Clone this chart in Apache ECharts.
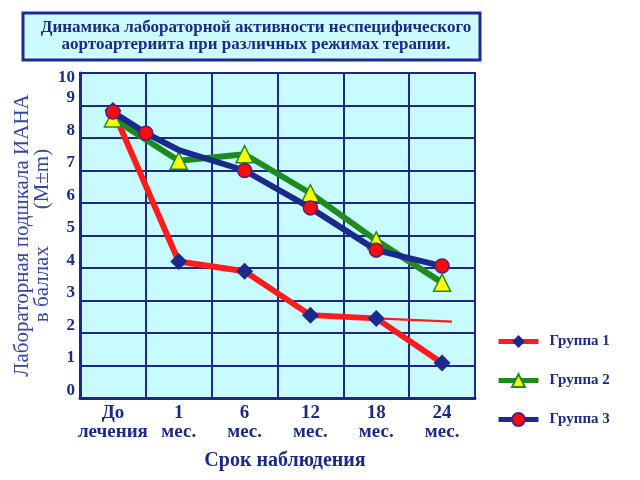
<!DOCTYPE html>
<html>
<head>
<meta charset="utf-8">
<script src="https://cdn.jsdelivr.net/npm/echarts@6/dist/echarts.min.js"></script>
<style>html,body{margin:0;padding:0;background:#fff}#c{width:640px;height:480px}</style>
</head>
<body>
<div id="c"></div>
<script>
// ---- data ----
var categories = ['До\nлечения', '1\nмес.', '6\nмес.', '12\nмес.', '18\nмес.', '24\nмес.'];
var yTicks = [0, 10];
var group1 = [8.85, 4.2, 3.9, 2.55, 2.45, 1.08];
var group1TailX = [4, 5.15];
var group1Tail = [2.45, 2.35];
var group2 = [8.6, 7.3, 7.5, 6.3, 4.85, 3.55];
var group3X = [0, 0.5, 1, 2, 3, 4, 5];
var group3 = [8.8, 8.15, 7.63, 7.0, 5.85, 4.55, 4.06];
var group3Marked = [true, true, false, true, true, true, true];
var seriesNames = ['Группа 1', 'Группа 2', 'Группа 3'];
var titleText = 'Динамика лабораторной активности неспецифического\nаортоартериита при различных режимах терапии.';
var yName = 'Лабораторная подшкала ИАНА\nв баллах       (M±m)';
var xName = 'Срок наблюдения';

var NAVY = '#1b2a84';
var FONT = '"Liberation Serif","DejaVu Serif",serif';

var chart = echarts.init(document.getElementById('c'), null, {renderer: 'canvas'});
var option = {
  animation: false,
  backgroundColor: '#ffffff',
  title: {
    text: titleText,
    left: 251, top: 14,
    textAlign: 'center',
    textStyle: {fontFamily: FONT, fontWeight: 'bold', fontSize: 17, lineHeight: 17, color: NAVY},
    z: 10
  },
  graphic: [{
    type: 'rect', z: 0,
    shape: {x: 23, y: 13, width: 457, height: 47},
    style: {fill: '#ccfcff', stroke: '#1e2a90', lineWidth: 3}
  }],
  grid: {
    left: 80, right: 165, top: 73, bottom: 82,
    show: true, backgroundColor: '#c8fbfd', borderColor: NAVY, borderWidth: 2
  },
  legend: {
    orient: 'vertical', left: 496, top: 334, padding: 0,
    itemWidth: 40, itemHeight: 16, itemGap: 24,
    data: seriesNames,
    lineStyle: {width: 5},
    textStyle: {fontFamily: FONT, fontWeight: 'bold', fontSize: 15, color: NAVY, padding: [0, 0, 0, 6]}
  },
  xAxis: [{
    type: 'category', data: categories, boundaryGap: true,
    axisLine: {show: true, lineStyle: {color: NAVY, width: 3}},
    axisTick: {show: false},
    splitLine: {show: true, interval: 0, lineStyle: {color: NAVY, width: 2}},
    axisLabel: {interval: 0, margin: 6, fontFamily: FONT, fontWeight: 'bold', fontSize: 19, lineHeight: 19, color: NAVY},
    name: xName, nameLocation: 'middle', nameGap: 53,
    nameTextStyle: {fontFamily: FONT, fontWeight: 'bold', fontSize: 20, color: NAVY, padding: [0, 0, 0, 15]}
  }, {
    type: 'value', min: -0.5, max: 5.5, show: false
  }],
  yAxis: {
    type: 'value', min: yTicks[0], max: yTicks[1], interval: 1,
    axisLine: {show: true, onZero: false, lineStyle: {color: NAVY, width: 3}},
    axisTick: {show: false},
    splitLine: {show: true, lineStyle: {color: NAVY, width: 2}},
    axisLabel: {
      margin: 5,
      formatter: function (v) { return v === yTicks[1] ? '{b|' + v + '}' : '{a|' + v + '}'; },
      rich: {
        a: {fontFamily: FONT, fontWeight: 'bold', fontSize: 17, color: NAVY, padding: [0, 0, 15, 0]},
        b: {fontFamily: FONT, fontWeight: 'bold', fontSize: 17, color: NAVY, padding: [10, 0, 0, 0]}
      }
    },
    name: yName, nameLocation: 'middle', nameRotate: 90, nameGap: 28, nameMoveOverlap: false,
    nameTextStyle: {fontFamily: FONT, fontSize: 21, lineHeight: 20, color: '#3346a6'}
  },
  series: [{
    name: seriesNames[0], type: 'line', xAxisIndex: 1,
    data: group1.map(function (v, i) { return [i, v]; }),
    symbol: 'diamond', symbolSize: 17,
    lineStyle: {color: '#ff1c1c', width: 6},
    itemStyle: {color: '#1b2a8a'},
    emphasis: {disabled: true}, z: 2
  }, {
    name: seriesNames[0], type: 'line', xAxisIndex: 1,
    data: group1TailX.map(function (x, i) { return [x, group1Tail[i]]; }),
    symbol: 'none', lineStyle: {color: '#ff1c1c', width: 2.5},
    emphasis: {disabled: true}, z: 1, legendHoverLink: false
  }, {
    name: seriesNames[1], type: 'line', xAxisIndex: 1,
    data: group2.map(function (v, i) { return [i, v]; }),
    symbol: 'triangle', symbolSize: 17,
    lineStyle: {color: '#1f8a1f', width: 6},
    itemStyle: {color: '#ffff00', borderColor: '#1f8a1f', borderWidth: 1.5},
    emphasis: {disabled: true}, z: 3
  }, {
    name: seriesNames[2], type: 'line', xAxisIndex: 1,
    data: group3X.map(function (x, i) {
      return group3Marked[i] ? [x, group3[i]] : {value: [x, group3[i]], symbol: 'none'};
    }),
    symbol: 'circle', symbolSize: 14,
    lineStyle: {color: '#1b2a8a', width: 6},
    itemStyle: {color: '#ff0a0a', borderColor: '#5a1a8a', borderWidth: 1.5},
    emphasis: {disabled: true}, z: 4
  }]
};
chart.setOption(option);
</script>
</body>
</html>
